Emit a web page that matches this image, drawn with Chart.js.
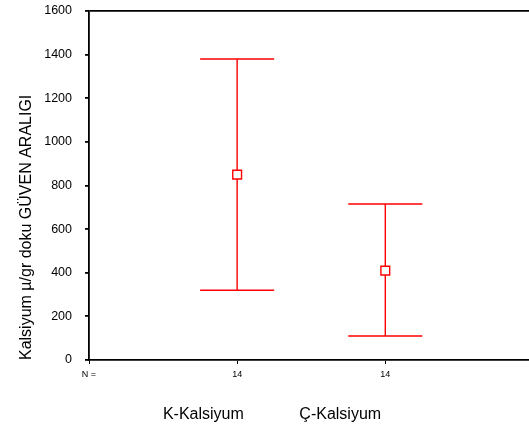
<!DOCTYPE html>
<html>
<head>
<meta charset="utf-8">
<script src="https://cdn.jsdelivr.net/npm/chart.js@4"></script>
<style>
	body { margin: 0; background: #fff; }
</style>
</head>
<body>
<canvas id="ciChart" width="529" height="427"></canvas>
<script>
// groups
const groups = ["K-Kalsiyum", "Ç-Kalsiyum"];
const nCounts = [14, 14];
// means and 95% CI
const means = [850, 410];
const lowerCI = [320, 110];
const upperCI = [1380, 715];
// y ticks
const yMin = 0;
const yMax = 1600;
const yStep = 200;

const fontFamily = "'Liberation Sans', Arial, sans-serif";
const red = "rgb(255,0,0)";

// whiskers
const errorBars = {
	id: "errorBars",
	beforeDatasetsDraw(chart) {
		const xs = chart.scales.x;
		const ys = chart.scales.y;
		const ctx = chart.ctx;
		ctx.save();
		ctx.strokeStyle = red;
		ctx.lineWidth = 1.4;
		for (let i = 0; i < groups.length; i++) {
			let x = xs.getPixelForValue(i + 1);
			let xl = xs.getPixelForValue(i + 1 - 0.25);
			let xr = xs.getPixelForValue(i + 1 + 0.25);
			let lo = ys.getPixelForValue(lowerCI[i]);
			let hi = ys.getPixelForValue(upperCI[i]);
			ctx.beginPath();
			ctx.moveTo(x, lo);
			ctx.lineTo(x, hi);
			ctx.moveTo(xl, lo);
			ctx.lineTo(xr, lo);
			ctx.moveTo(xl, hi);
			ctx.lineTo(xr, hi);
			ctx.stroke();
		}
		ctx.restore();
	},
};

// no extra label padding, layout padding decides
function noPad(scale) {
	scale.paddingLeft = 0;
	scale.paddingRight = 0;
	scale.paddingTop = 0;
	scale.paddingBottom = 0;
}

const ctx = document.getElementById("ciChart").getContext("2d");

new Chart(ctx, {
	type: "scatter",
	data: {
		datasets: [
			{
				data: means.map((m, i) => ({ x: i + 1, y: m })),
				pointStyle: "rect",
				pointRadius: 6.2,
				backgroundColor: "#fff",
				borderColor: red,
				borderWidth: 1.4,
			},
		],
	},
	options: {
		responsive: false,
		animation: false,
		events: [],
		layout: { autoPadding: false, padding: { left: 13, top: 11, right: 0, bottom: 5 } },
		plugins: { legend: { display: false }, tooltip: { enabled: false } },
		scales: {
			y: {
				min: yMin,
				max: yMax,
				ticks: {
					stepSize: yStep,
					color: "#000",
					padding: 13,
					font: { family: fontFamily, size: 12.5 },
					callback: (v) => String(v),
				},
				grid: {
					drawOnChartArea: true,
					tickLength: 4,
					color: (c) => (c.tick && c.tick.value === yMax ? "#000" : "rgba(0,0,0,0)"),
					tickColor: "#000",
					lineWidth: 1.8,
				},
				border: { color: "#000", width: 1.8 },
				title: {
					display: true,
					text: "Kalsiyum µ/gr doku GÜVEN ARALIGI",
					align: "start",
					color: "#000",
					font: { family: fontFamily, size: 16 },
				},
				afterFit(scale) {
					scale.width = 76;
					noPad(scale);
				},
			},
			x: {
				type: "linear",
				position: "bottom",
				min: 0,
				max: 2.97,
				afterBuildTicks(scale) {
					scale.ticks = [0, 1, 2].map((v) => ({ value: v }));
				},
				ticks: {
					color: "#000",
					padding: 5,
					maxRotation: 0,
					autoSkip: false,
					font: { family: fontFamily, size: 9 },
					callback: (v) => (v === 0 ? "N =" : String(nCounts[v - 1])),
				},
				grid: { drawOnChartArea: false, tickLength: 4, color: "#000" },
				border: { color: "#000", width: 1.8 },
				afterFit(scale) {
					scale.height = 18;
					noPad(scale);
				},
			},
			xName: {
				type: "linear",
				position: "bottom",
				min: 0,
				max: 2.97,
				afterBuildTicks(scale) {
					scale.ticks = [0.772, 1.696].map((v) => ({ value: v }));
				},
				ticks: {
					color: "#000",
					padding: 27,
					maxRotation: 0,
					autoSkip: false,
					font: { family: fontFamily, size: 16 },
					callback: (v, i) => groups[i],
				},
				grid: { display: false, drawTicks: false },
				border: { display: false },
				afterFit(scale) {
					scale.height = 44;
					noPad(scale);
				},
			},
		},
	},
	plugins: [errorBars],
});
</script>
</body>
</html>
